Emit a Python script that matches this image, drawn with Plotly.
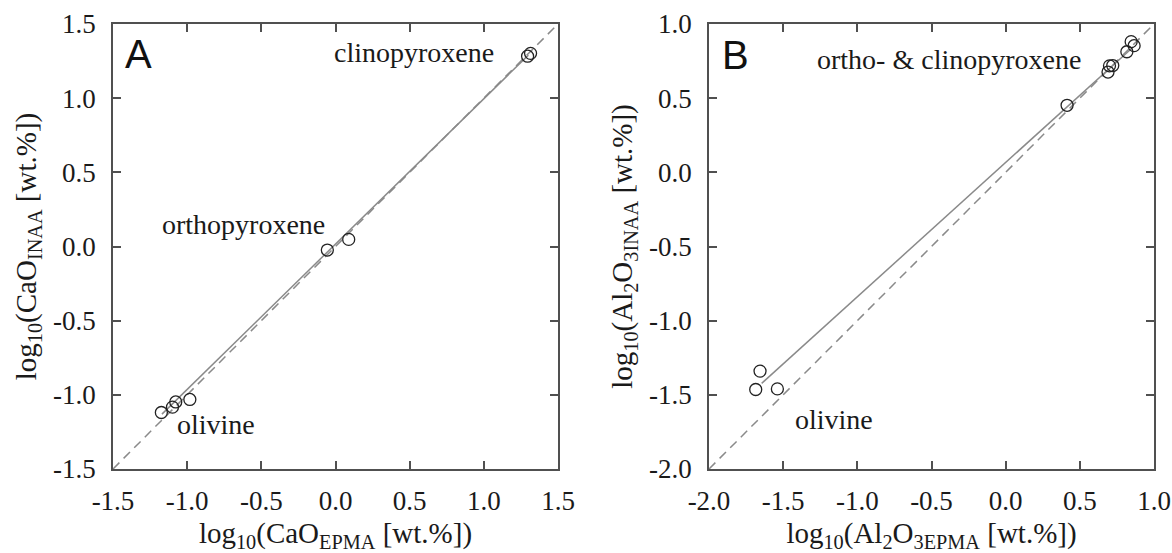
import plotly.graph_objects as go

# ---------------- data ----------------
# Panel A: CaO
caA_epma = [-1.174, -1.099, -1.077, -0.982, -0.055, 0.089, 1.295, 1.315]
caA_inaa = [-1.119, -1.083, -1.048, -1.031, -0.024, 0.048, 1.283, 1.302]
fitA_x = [-1.17, 1.30]
fitA_y = [-1.13, 1.29]

# Panel B: Al2O3
alB_epma = [-1.685, -1.656, -1.539, 0.414, 0.690, 0.700, 0.722, 0.817, 0.846, 0.866]
alB_inaa = [-1.464, -1.340, -1.460, 0.452, 0.676, 0.718, 0.720, 0.813, 0.881, 0.854]
fitB_x = [-1.645, 0.86]
fitB_y = [-1.423, 0.845]

onetoone_A = [-1.5, 1.5]
onetoone_B = [-2.0, 1.0]

ticksA = [-1.5, -1.0, -0.5, 0.0, 0.5, 1.0, 1.5]
ticksA_text = ["-1.5", "-1.0", "-0.5", "0.0", "0.5", "1.0", "1.5"]
ticksB = [-2.0, -1.5, -1.0, -0.5, 0.0, 0.5, 1.0]
ticksB_text = ["-2.0", "-1.5", "-1.0", "-0.5", "0.0", "0.5", "1.0"]

# ---------------- figure ----------------
SERIF = "Liberation Serif, Times New Roman, serif"
SANS = "Liberation Sans, Arial, sans-serif"
LINE_GRAY = "#8a8a8a"
AXIS_COL = "#505050"
TXT = "#1a1a1a"

fig = go.Figure()

def add_panel(xs, ys, fx, fy, diag, xa, ya):
    fig.add_trace(go.Scatter(x=diag, y=diag, mode="lines", xaxis=xa, yaxis=ya,
                             line=dict(color=LINE_GRAY, width=1.5, dash="9px,6px"),
                             showlegend=False, hoverinfo="skip"))
    fig.add_trace(go.Scatter(x=fx, y=fy, mode="lines", xaxis=xa, yaxis=ya,
                             line=dict(color=LINE_GRAY, width=1.5),
                             showlegend=False, hoverinfo="skip"))
    fig.add_trace(go.Scatter(x=xs, y=ys, mode="markers", xaxis=xa, yaxis=ya,
                             marker=dict(symbol="circle-open", size=12, color="#222222",
                                         line=dict(width=1.3, color="#222222")),
                             showlegend=False))

add_panel(caA_epma, caA_inaa, fitA_x, fitA_y, onetoone_A, "x", "y")
add_panel(alB_epma, alB_inaa, fitB_x, fitB_y, onetoone_B, "x2", "y2")

axis_common = dict(
    showgrid=False, zeroline=False, showline=True, linecolor=AXIS_COL, linewidth=1.5,
    mirror="ticks", ticks="inside", ticklen=8, tickwidth=1.5, tickcolor=AXIS_COL,
    tickfont=dict(family=SERIF, size=27, color=TXT), automargin=False,
)
title_font = dict(family=SERIF, size=29, color=TXT)

W, H = 1172, 553
ml, mr, mt, mb = 113, 18, 24, 84
pw = W - ml - mr
dA = [0, 445 / pw]
dB = [(709 - ml) / pw, 1]

fig.update_layout(
    width=W, height=H,
    margin=dict(l=ml, r=mr, t=mt, b=mb),
    paper_bgcolor="white", plot_bgcolor="white",
    showlegend=False,
    xaxis=dict(axis_common, domain=dA, range=[-1.5, 1.5], tickvals=ticksA, ticktext=ticksA_text,
               ticklabelstandoff=7,
               title=dict(text="log<sub>10</sub>(CaO<sub>EPMA</sub> [wt.%])",
                          font=title_font, standoff=15)),
    yaxis=dict(axis_common, domain=[0, 1], range=[-1.5, 1.5], tickvals=ticksA, ticktext=ticksA_text,
               ticklabelstandoff=10,
               title=dict(text="log<sub>10</sub>(CaO<sub>INAA</sub> [wt.%])",
                          font=title_font, standoff=8)),
    xaxis2=dict(axis_common, domain=dB, range=[-2.0, 1.0], tickvals=ticksB, ticktext=ticksB_text,
                ticklabelstandoff=7, anchor="y2",
                title=dict(text="log<sub>10</sub>(Al<sub>2</sub>O<sub>3EPMA</sub> [wt.%])",
                           font=title_font, standoff=15)),
    yaxis2=dict(axis_common, domain=[0, 1], range=[-2.0, 1.0], tickvals=ticksB, ticktext=ticksB_text,
                ticklabelstandoff=10, anchor="x2",
                title=dict(text="log<sub>10</sub>(Al<sub>2</sub>O<sub>3INAA</sub> [wt.%])",
                           font=title_font, standoff=8)),
)

ann_font = dict(family=SERIF, size=28, color=TXT)
letter_font = dict(family=SANS, size=40, color="#111111")
annotations = [
    dict(text="A", x=-1.33, y=1.30, xref="x", yref="y", font=letter_font),
    dict(text="clinopyroxene", x=0.53, y=1.31, xref="x", yref="y", font=ann_font),
    dict(text="orthopyroxene", x=-0.617, y=0.145, xref="x", yref="y", font=ann_font),
    dict(text="olivine", x=-0.808, y=-1.203, xref="x", yref="y", font=ann_font),
    dict(text="B", x=-1.82, y=0.79, xref="x2", yref="y2", font=letter_font),
    dict(text="ortho- &amp; clinopyroxene", x=-0.382, y=0.762, xref="x2", yref="y2", font=ann_font),
    dict(text="olivine", x=-1.155, y=-1.667, xref="x2", yref="y2", font=ann_font),
]
for a in annotations:
    a.update(showarrow=False, xanchor="center", yanchor="middle")
fig.update_layout(annotations=annotations)

fig.write_html("out.html")
